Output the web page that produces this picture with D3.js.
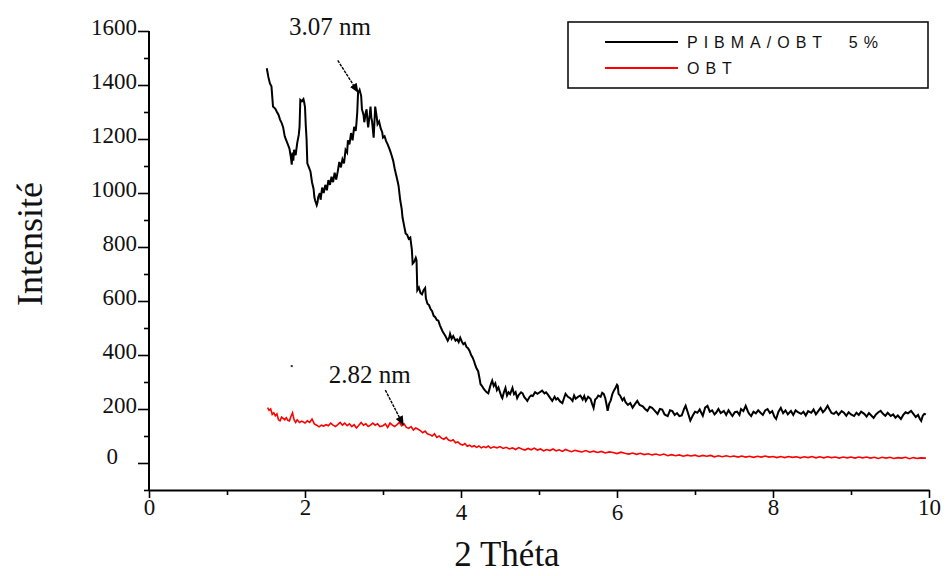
<!DOCTYPE html>
<html>
<head>
<meta charset="utf-8">
<script src="https://cdn.jsdelivr.net/npm/d3@7"></script>
<style>
  html, body { margin: 0; padding: 0; background: #fff; }
  svg { display: block; }
</style>
</head>
<body>
<svg id="chart"></svg>
<script>
// PIBMA/OBT 5% pattern, [2theta, intensity]
const pibma = [
  [1.51,1462],[1.53,1430],[1.55,1406],[1.57,1395],[1.59,1320],[1.62,1312],[1.64,1300],[1.66,1290],[1.68,1272],[1.70,1260],
  [1.72,1243],[1.74,1210],[1.76,1195],[1.78,1180],[1.80,1165],[1.82,1130],[1.83,1105],[1.84,1150],[1.85,1120],[1.86,1160],
  [1.88,1140],[1.90,1185],[1.92,1215],[1.93,1245],[1.94,1345],[1.96,1340],[1.98,1348],[1.99,1335],[2.00,1318],[2.01,1250],
  [2.02,1200],[2.03,1110],[2.05,1095],[2.07,1080],[2.09,1040],[2.11,1015],[2.12,985],[2.13,972],[2.15,955],[2.16,965],
  [2.17,985],[2.19,1000],[2.20,975],[2.22,1020],[2.24,1000],[2.26,1030],[2.28,1010],[2.30,1048],[2.32,1030],[2.34,1060],
  [2.36,1040],[2.38,1075],[2.40,1050],[2.42,1080],[2.44,1115],[2.46,1095],[2.48,1125],[2.50,1110],[2.52,1160],[2.54,1150],
  [2.55,1195],[2.57,1180],[2.59,1222],[2.61,1195],[2.63,1245],[2.65,1230],[2.66,1260],[2.67,1300],[2.68,1370],[2.70,1382],
  [2.72,1360],[2.73,1310],[2.75,1290],[2.76,1262],[2.78,1300],[2.79,1310],[2.80,1270],[2.81,1243],[2.83,1290],[2.84,1320],
  [2.85,1280],[2.86,1265],[2.88,1205],[2.89,1260],[2.90,1320],[2.92,1280],[2.93,1255],[2.95,1265],[2.97,1240],[2.99,1225],
  [3.00,1205],[3.02,1210],[3.04,1192],[3.06,1180],[3.09,1158],[3.11,1140],[3.13,1120],[3.15,1090],[3.17,1065],[3.19,1040],
  [3.20,1025],[3.22,975],[3.24,940],[3.25,910],[3.27,880],[3.29,850],[3.31,845],[3.33,830],[3.35,835],[3.37,790],
  [3.38,738],[3.40,745],[3.42,760],[3.43,750],[3.44,640],[3.46,650],[3.48,630],[3.50,625],[3.52,640],[3.54,648],
  [3.55,610],[3.57,590],[3.59,585],[3.61,570],[3.63,562],[3.65,545],[3.67,540],[3.69,530],[3.71,527],[3.73,510],
  [3.76,490],[3.78,480],[3.80,470],[3.83,453],[3.85,465],[3.86,478],[3.88,460],[3.90,470],[3.93,453],[3.95,458],
  [3.97,448],[3.99,464],[4.01,450],[4.03,440],[4.05,445],[4.07,430],[4.09,425],[4.11,415],[4.13,400],[4.15,390],
  [4.17,375],[4.18,365],[4.20,350],[4.22,340],[4.24,310],[4.25,292],[4.27,285],[4.29,275],[4.31,268],[4.33,262],
  [4.35,258],[4.37,280],[4.38,290],[4.40,305],[4.42,285],[4.44,295],[4.46,270],[4.48,280],[4.50,262],[4.52,245],
  [4.53,240],[4.55,262],[4.57,278],[4.59,250],[4.61,262],[4.63,255],[4.66,278],[4.68,255],[4.70,262],[4.72,240],
  [4.74,252],[4.77,262],[4.79,258],[4.81,245],[4.83,238],[4.85,230],[4.88,245],[4.90,250],[4.92,248],[4.95,262],
  [4.98,256],[5.01,262],[5.04,268],[5.07,258],[5.09,262],[5.11,255],[5.14,242],[5.17,230],[5.20,245],[5.22,235],
  [5.24,240],[5.27,228],[5.30,222],[5.32,240],[5.34,256],[5.37,245],[5.40,240],[5.43,230],[5.45,250],[5.47,238],
  [5.50,245],[5.53,250],[5.56,235],[5.58,248],[5.60,230],[5.63,245],[5.66,238],[5.68,220],[5.70,204],[5.72,235],
  [5.74,240],[5.76,250],[5.79,245],[5.81,260],[5.83,256],[5.85,240],[5.87,210],[5.88,193],[5.90,220],[5.92,232],
  [5.94,255],[5.96,268],[5.98,278],[6.00,290],[6.01,286],[6.02,256],[6.04,250],[6.07,232],[6.09,240],[6.11,225],
  [6.14,215],[6.17,222],[6.20,205],[6.23,218],[6.26,230],[6.29,215],[6.33,210],[6.36,200],[6.39,193],[6.42,208],
  [6.45,204],[6.48,195],[6.52,182],[6.55,200],[6.58,198],[6.61,180],[6.65,174],[6.68,195],[6.71,192],[6.74,178],
  [6.77,185],[6.80,174],[6.83,176],[6.86,200],[6.88,212],[6.91,185],[6.94,157],[6.97,175],[7.00,190],[7.03,186],
  [7.06,198],[7.10,175],[7.13,205],[7.16,212],[7.19,190],[7.22,195],[7.25,180],[7.27,186],[7.30,200],[7.33,185],
  [7.37,193],[7.40,178],[7.43,195],[7.46,182],[7.48,174],[7.51,188],[7.54,190],[7.57,178],[7.59,200],[7.62,192],
  [7.65,212],[7.68,190],[7.70,180],[7.72,174],[7.75,190],[7.78,184],[7.81,195],[7.84,186],[7.87,178],[7.90,195],
  [7.93,200],[7.96,185],[7.99,192],[8.02,170],[8.04,163],[8.07,190],[8.10,204],[8.13,185],[8.16,195],[8.19,180],
  [8.23,193],[8.26,178],[8.29,195],[8.32,188],[8.36,182],[8.39,190],[8.42,176],[8.45,192],[8.49,186],[8.52,198],
  [8.55,180],[8.58,192],[8.61,204],[8.64,188],[8.67,198],[8.70,212],[8.73,195],[8.75,185],[8.78,182],[8.81,190],
  [8.84,178],[8.88,192],[8.91,186],[8.94,175],[8.97,188],[9.00,180],[9.04,174],[9.07,186],[9.10,178],[9.13,190],
  [9.17,182],[9.20,172],[9.23,185],[9.26,176],[9.29,167],[9.32,180],[9.35,188],[9.38,193],[9.41,182],[9.44,175],
  [9.47,186],[9.51,174],[9.54,180],[9.57,168],[9.60,176],[9.64,163],[9.67,178],[9.70,188],[9.73,184],[9.77,193],
  [9.80,182],[9.83,170],[9.86,178],[9.88,165],[9.90,156],[9.92,175],[9.94,182],[9.96,180]
];

// OBT pattern
const obt = [
  [1.52,205],[1.54,195],[1.56,200],[1.58,180],[1.60,186],[1.62,175],[1.64,182],[1.66,160],[1.68,156],[1.70,170],
  [1.72,165],[1.74,160],[1.76,168],[1.78,158],[1.80,156],[1.82,172],[1.84,186],[1.86,160],[1.88,150],[1.90,160],
  [1.93,150],[1.96,155],[2.00,148],[2.03,156],[2.06,150],[2.09,163],[2.12,145],[2.15,140],[2.18,134],[2.21,140],
  [2.24,137],[2.27,142],[2.30,138],[2.33,148],[2.36,140],[2.39,135],[2.42,142],[2.45,150],[2.48,140],[2.51,148],
  [2.54,138],[2.57,145],[2.60,135],[2.63,142],[2.66,130],[2.69,140],[2.72,150],[2.75,140],[2.78,145],[2.81,135],
  [2.84,140],[2.87,148],[2.90,140],[2.93,145],[2.96,135],[3.00,138],[3.03,145],[3.06,132],[3.09,148],[3.12,140],
  [3.15,135],[3.18,142],[3.21,150],[3.24,138],[3.27,145],[3.30,132],[3.33,128],[3.36,135],[3.39,122],[3.42,130],
  [3.45,125],[3.48,120],[3.51,112],[3.54,118],[3.57,108],[3.60,105],[3.63,100],[3.66,108],[3.69,95],[3.72,100],
  [3.75,92],[3.78,88],[3.81,95],[3.84,85],[3.87,82],[3.90,86],[3.93,75],[3.96,78],[3.99,70],[4.02,66],
  [4.05,72],[4.08,62],[4.11,66],[4.14,60],[4.17,64],[4.20,58],[4.23,63],[4.26,56],[4.29,61],[4.32,57],
  [4.35,63],[4.38,55],[4.42,60],[4.46,56],[4.50,61],[4.54,54],[4.58,58],[4.62,52],[4.66,56],[4.70,50],
  [4.74,57],[4.78,52],[4.82,48],[4.86,54],[4.90,49],[4.94,55],[4.98,48],[5.02,52],[5.06,45],[5.10,50],
  [5.14,46],[5.18,52],[5.22,45],[5.26,49],[5.30,43],[5.34,50],[5.38,45],[5.42,42],[5.46,47],[5.50,44],
  [5.55,41],[5.60,46],[5.65,40],[5.70,44],[5.75,39],[5.80,43],[5.85,37],[5.90,41],[5.95,39],[6.00,35],
  [6.05,40],[6.10,36],[6.15,33],[6.20,37],[6.25,32],[6.30,36],[6.35,31],[6.40,34],[6.45,30],[6.50,33],
  [6.55,29],[6.60,33],[6.65,27],[6.70,31],[6.75,27],[6.80,30],[6.85,25],[6.90,29],[6.95,26],[7.00,29],
  [7.05,24],[7.10,28],[7.15,25],[7.20,28],[7.25,23],[7.30,27],[7.35,23],[7.40,27],[7.45,23],[7.50,26],
  [7.55,22],[7.60,26],[7.65,22],[7.70,25],[7.75,21],[7.80,25],[7.85,22],[7.90,26],[7.95,22],[8.00,24],
  [8.05,20],[8.10,24],[8.15,20],[8.20,24],[8.25,21],[8.30,23],[8.35,19],[8.40,23],[8.45,20],[8.50,24],
  [8.55,19],[8.60,23],[8.65,19],[8.70,23],[8.75,20],[8.80,22],[8.85,18],[8.90,22],[8.95,19],[9.00,22],
  [9.05,18],[9.10,22],[9.15,19],[9.20,22],[9.25,18],[9.30,21],[9.35,17],[9.40,21],[9.45,18],[9.50,21],
  [9.55,17],[9.60,20],[9.65,18],[9.70,21],[9.75,16],[9.80,20],[9.85,17],[9.90,19],[9.96,18]
];

const seriesNames = ["PIBMA/OBT  5%", "OBT"];
const xMajorTicks = [0, 2, 4, 6, 8, 10];
const xMinorTicks = [1, 3, 5, 7, 9];
const yMajorTicks = [0, 200, 400, 600, 800, 1000, 1200, 1400, 1600];
const yMinorTicks = [-100, 100, 300, 500, 700, 900, 1100, 1300, 1500];

// d-spacing labels with arrows (data coords)
const notes = [
  { label: "3.07 nm", text: [2.32, 1584], from: [2.42, 1491], to: [2.68, 1373] },
  { label: "2.82 nm", text: [2.83, 296], from: [3.03, 270], to: [3.26, 141] }
];

const width = 949, height = 576;
const serif = "'Liberation Serif', 'Times New Roman', serif";
const sans = "'Liberation Sans', Arial, sans-serif";

const svg = d3.select("#chart").attr("width", width).attr("height", height);

const x = d3.scaleLinear().domain([0, 10]).range([149, 929]);
const y = d3.scaleLinear().domain([-100, 1600]).range([490, 31]);

// y axis
const yMajor = svg.append("g")
  .attr("transform", `translate(${x(0)},0)`)
  .call(d3.axisLeft(y).tickValues(yMajorTicks).tickSize(11).tickSizeOuter(0).tickFormat(d3.format("d")));
yMajor.select(".domain").attr("stroke-width", 2).attr("d", `M0,${y(-100)}V${y(1600)}`);
yMajor.selectAll(".tick line").attr("stroke-width", 1.6);
yMajor.selectAll(".tick text")
  .attr("font-family", serif).attr("font-size", 23).attr("fill", "#111")
  .attr("x", -12).attr("dy", null).attr("y", 3);
// the 0 label sits off its tick in the original
yMajor.selectAll(".tick text").filter(d => d === 0).attr("x", -31).attr("y", 0);

const yMinor = svg.append("g")
  .attr("transform", `translate(${x(0)},0)`)
  .call(d3.axisLeft(y).tickValues(yMinorTicks).tickSize(5).tickFormat(""));
yMinor.select(".domain").remove();
yMinor.selectAll(".tick line").attr("stroke-width", 1.6);

// x axis
const xMajor = svg.append("g")
  .attr("transform", `translate(0,${y(-100)})`)
  .call(d3.axisBottom(x).tickValues(xMajorTicks).tickSize(8).tickSizeOuter(0).tickFormat(d3.format("d")));
xMajor.select(".domain").attr("stroke-width", 2);
xMajor.selectAll(".tick line").attr("stroke-width", 1.6);
xMajor.selectAll(".tick text")
  .attr("font-family", serif).attr("font-size", 23).attr("fill", "#111")
  .attr("dy", null).attr("y", d => (d === 4 || d === 6) ? 30 : 25);

const xMinor = svg.append("g")
  .attr("transform", `translate(0,${y(-100)})`)
  .call(d3.axisBottom(x).tickValues(xMinorTicks).tickSize(5).tickFormat(""));
xMinor.select(".domain").remove();
xMinor.selectAll(".tick line").attr("stroke-width", 1.6);

// axis titles
svg.append("text")
  .attr("transform", "translate(42,244) rotate(-90)")
  .attr("text-anchor", "middle")
  .attr("font-family", serif).attr("font-size", 36).attr("fill", "#111")
  .text("Intensité");

svg.append("text")
  .attr("x", 507).attr("y", 566)
  .attr("text-anchor", "middle")
  .attr("font-family", serif).attr("font-size", 35).attr("fill", "#111")
  .text("2 Théta");

// curves
const line = d3.line().x(d => x(d[0])).y(d => y(d[1]));

svg.append("path").datum(obt)
  .attr("fill", "none").attr("stroke", "#ff0000").attr("stroke-width", 1.6)
  .attr("d", line);

svg.append("path").datum(pibma)
  .attr("fill", "none").attr("stroke", "#000").attr("stroke-width", 2)
  .attr("d", line);

// annotations
svg.append("defs").append("marker")
  .attr("id", "arrow").attr("viewBox", "0 0 10 10")
  .attr("refX", 9).attr("refY", 5)
  .attr("markerWidth", 7).attr("markerHeight", 7)
  .attr("orient", "auto")
  .append("path").attr("d", "M0,1L10,5L0,9z").attr("fill", "#000");

const note = svg.append("g").selectAll("g").data(notes).enter().append("g");
note.append("line")
  .attr("x1", d => x(d.from[0])).attr("y1", d => y(d.from[1]))
  .attr("x2", d => x(d.to[0])).attr("y2", d => y(d.to[1]))
  .attr("stroke", "#000").attr("stroke-width", 1.4)
  .attr("stroke-dasharray", "3,1")
  .attr("marker-end", "url(#arrow)");
note.append("text")
  .attr("x", d => x(d.text[0])).attr("y", d => y(d.text[1]))
  .attr("text-anchor", "middle")
  .attr("font-family", serif).attr("font-size", 25).attr("fill", "#111")
  .text(d => d.label);

// small stray mark left of the 2.82 label
svg.append("rect").attr("x", x(1.83) - 1).attr("y", y(359) - 1)
  .attr("width", 2).attr("height", 2).attr("fill", "#333");

// legend
const legend = svg.append("g");
legend.append("rect")
  .attr("x", 568).attr("y", 22).attr("width", 360).attr("height", 66)
  .attr("fill", "#fff").attr("stroke", "#111").attr("stroke-width", 1.6);

const legendItems = legend.selectAll("g.item")
  .data(seriesNames).enter().append("g")
  .attr("transform", (d, i) => `translate(0,${42 + i * 26})`);
legendItems.append("line")
  .attr("x1", 605).attr("x2", 678)
  .attr("stroke", (d, i) => i === 0 ? "#000" : "#ff0000")
  .attr("stroke-width", 1.8);
legendItems.append("text")
  .attr("x", 687).attr("y", 6)
  .attr("font-family", sans).attr("font-size", 16).attr("fill", "#111")
  .attr("letter-spacing", 6)
  .style("white-space", "pre")
  .text(d => d);
</script>
</body>
</html>
